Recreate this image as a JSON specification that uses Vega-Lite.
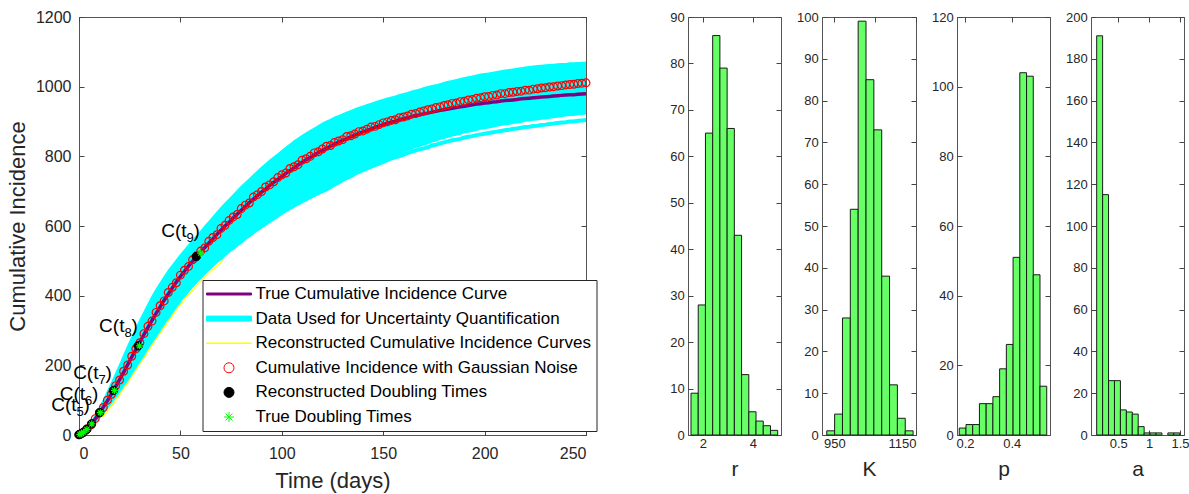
{
"$schema": "https://vega.github.io/schema/vega-lite/v6.json",
"padding": {"left": 5, "top": 8, "right": 2, "bottom": 2},
"bounds": "flush",
"spacing": 41,
"config": {
 "font": "Liberation Sans",
 "view": {"stroke": "#555555", "strokeWidth": 1},
 "axis": {"grid": false, "domain": false, "tickSize": -5, "tickColor": "#444444", "tickWidth": 1, "labelColor": "#262626", "titleColor": "#262626", "titleFontWeight": "normal"}
},
"datasets": {
 "main": [
{"t":0,"tru":1,"noisy":1,"hi":1,"lo":1,"out":7,"yel":9},
{"t":2,"tru":7,"noisy":7,"hi":8,"lo":5,"out":11,"yel":13},
{"t":4,"tru":17,"noisy":18,"hi":23,"lo":13,"out":19,"yel":21},
{"t":6,"tru":30,"noisy":29,"hi":41,"lo":23,"out":29,"yel":31},
{"t":8,"tru":46,"noisy":47,"hi":60,"lo":35,"out":41,"yel":43},
{"t":10,"tru":62,"noisy":64,"hi":82,"lo":48,"out":54,"yel":56},
{"t":12,"tru":80,"noisy":79,"hi":104,"lo":65,"out":68,"yel":54},
{"t":14,"tru":98,"noisy":100,"hi":129,"lo":80,"out":83,"yel":69},
{"t":16,"tru":118,"noisy":117,"hi":154,"lo":95,"out":98,"yel":84},
{"t":18,"tru":138,"noisy":141,"hi":180,"lo":110,"out":113,"yel":99},
{"t":20,"tru":159,"noisy":158,"hi":206,"lo":127,"out":130,"yel":116},
{"t":22,"tru":180,"noisy":183,"hi":233,"lo":144,"out":147,"yel":133},
{"t":24,"tru":202,"noisy":201,"hi":260,"lo":161,"out":164,"yel":150},
{"t":26,"tru":224,"noisy":226,"hi":285,"lo":179,"out":182,"yel":168},
{"t":28,"tru":245,"noisy":247,"hi":310,"lo":197,"out":200,"yel":186},
{"t":30,"tru":267,"noisy":265,"hi":334,"lo":215,"out":218,"yel":204},
{"t":32,"tru":288,"noisy":291,"hi":357,"lo":233,"out":236,"yel":222},
{"t":34,"tru":309,"noisy":312,"hi":380,"lo":251,"out":254,"yel":240},
{"t":36,"tru":329,"noisy":327,"hi":402,"lo":269,"out":272,"yel":258},
{"t":38,"tru":349,"noisy":352,"hi":421,"lo":286,"out":289,"yel":275},
{"t":40,"tru":368,"noisy":371,"hi":440,"lo":304,"out":307,"yel":293},
{"t":42,"tru":387,"noisy":385,"hi":458,"lo":321,"out":324,"yel":310},
{"t":44,"tru":405,"noisy":409,"hi":475,"lo":337,"out":340,"yel":326},
{"t":46,"tru":422,"noisy":424,"hi":490,"lo":354,"out":357,"yel":343},
{"t":48,"tru":439,"noisy":437,"hi":505,"lo":370,"out":373,"yel":359},
{"t":50,"tru":455,"noisy":459,"hi":520,"lo":386,"out":389,"yel":375},
{"t":52,"tru":470,"noisy":473,"hi":534,"lo":400,"out":403,"yel":389},
{"t":54,"tru":485,"noisy":484,"hi":548,"lo":414,"out":417,"yel":403},
{"t":56,"tru":499,"noisy":503,"hi":562,"lo":427,"out":430,"yel":416},
{"t":58,"tru":512,"noisy":515,"hi":575,"lo":440,"out":443,"yel":429},
{"t":60,"tru":525,"noisy":528,"hi":588,"lo":452,"out":455,"yel":441},
{"t":62,"tru":538,"noisy":537,"hi":602,"lo":464,"out":467,"yel":453},
{"t":64,"tru":551,"noisy":556,"hi":615,"lo":475,"out":478,"yel":464},
{"t":66,"tru":563,"noisy":567,"hi":629,"lo":486,"out":489,"yel":475},
{"t":68,"tru":576,"noisy":575,"hi":642,"lo":497,"out":500,"yel":486},
{"t":70,"tru":588,"noisy":593,"hi":655,"lo":506,"out":509,"yel":495},
{"t":72,"tru":600,"noisy":602,"hi":668,"lo":517,"out":520,"yel":522},
{"t":74,"tru":611,"noisy":616,"hi":680,"lo":526,"out":529,"yel":531},
{"t":76,"tru":623,"noisy":626,"hi":692,"lo":535,"out":538,"yel":540},
{"t":78,"tru":634,"noisy":633,"hi":704,"lo":544,"out":547,"yel":549},
{"t":80,"tru":645,"noisy":650,"hi":716,"lo":553,"out":556,"yel":558},
{"t":82,"tru":656,"noisy":660,"hi":727,"lo":563,"out":566,"yel":568},
{"t":84,"tru":667,"noisy":666,"hi":738,"lo":571,"out":574,"yel":576},
{"t":86,"tru":677,"noisy":683,"hi":749,"lo":580,"out":583,"yel":585},
{"t":88,"tru":687,"noisy":690,"hi":760,"lo":588,"out":591,"yel":593},
{"t":90,"tru":697,"noisy":699,"hi":771,"lo":596,"out":599,"yel":601},
{"t":92,"tru":706,"noisy":712,"hi":781,"lo":604,"out":607,"yel":609},
{"t":94,"tru":716,"noisy":718,"hi":791,"lo":612,"out":615,"yel":617},
{"t":96,"tru":725,"noisy":727,"hi":800,"lo":619,"out":622,"yel":624},
{"t":98,"tru":734,"noisy":739,"hi":809,"lo":627,"out":630,"yel":632},
{"t":100,"tru":742,"noisy":747,"hi":819,"lo":635,"out":638,"yel":640},
{"t":102,"tru":751,"noisy":752,"hi":828,"lo":642,"out":645,"yel":647},
{"t":104,"tru":759,"noisy":765,"hi":837,"lo":649,"out":652,"yel":654},
{"t":106,"tru":767,"noisy":770,"hi":846,"lo":655,"out":658,"yel":660},
{"t":108,"tru":775,"noisy":776,"hi":854,"lo":662,"out":665,"yel":667},
{"t":110,"tru":783,"noisy":789,"hi":862,"lo":668,"out":671,"yel":673},
{"t":112,"tru":790,"noisy":793,"hi":869,"lo":674,"out":677,"yel":679},
{"t":114,"tru":797,"noisy":800,"hi":876,"lo":680,"out":683,"yel":685},
{"t":116,"tru":804,"noisy":810,"hi":883,"lo":686,"out":689,"yel":691},
{"t":118,"tru":811,"noisy":813,"hi":890,"lo":692,"out":695,"yel":697},
{"t":120,"tru":817,"noisy":821,"hi":897,"lo":697,"out":700,"yel":702},
{"t":122,"tru":823,"noisy":829,"hi":903,"lo":702,"out":705,"yel":707},
{"t":124,"tru":829,"noisy":831,"hi":908,"lo":709,"out":712,"yel":714},
{"t":126,"tru":835,"noisy":840,"hi":914,"lo":716,"out":719,"yel":721},
{"t":128,"tru":841,"noisy":844,"hi":919,"lo":722,"out":725,"yel":727},
{"t":130,"tru":846,"noisy":848,"hi":924,"lo":729,"out":732,"yel":734},
{"t":132,"tru":851,"noisy":857,"hi":929,"lo":735,"out":738,"yel":740},
{"t":134,"tru":856,"noisy":859,"hi":933,"lo":740,"out":743,"yel":745},
{"t":136,"tru":861,"noisy":864,"hi":938,"lo":747,"out":750,"yel":752},
{"t":138,"tru":866,"noisy":871,"hi":942,"lo":752,"out":755,"yel":757},
{"t":140,"tru":870,"noisy":873,"hi":946,"lo":757,"out":760,"yel":762},
{"t":142,"tru":874,"noisy":878,"hi":950,"lo":763,"out":765,"yel":767},
{"t":144,"tru":879,"noisy":884,"hi":954,"lo":769,"out":770,"yel":772},
{"t":146,"tru":883,"noisy":886,"hi":958,"lo":774,"out":775,"yel":777},
{"t":148,"tru":887,"noisy":891,"hi":962,"lo":779,"out":779,"yel":781},
{"t":150,"tru":891,"noisy":896,"hi":965,"lo":785,"out":784,"yel":786},
{"t":152,"tru":895,"noisy":899,"hi":969,"lo":791,"out":789,"yel":791},
{"t":154,"tru":898,"noisy":903,"hi":972,"lo":797,"out":794,"yel":796},
{"t":156,"tru":901,"noisy":905,"hi":975,"lo":800,"out":797,"yel":799},
{"t":158,"tru":905,"noisy":911,"hi":979,"lo":805,"out":801,"yel":803},
{"t":160,"tru":908,"noisy":913,"hi":982,"lo":810,"out":805,"yel":807},
{"t":162,"tru":911,"noisy":916,"hi":985,"lo":816,"out":810,"yel":812},
{"t":164,"tru":914,"noisy":921,"hi":989,"lo":819,"out":813,"yel":815},
{"t":166,"tru":917,"noisy":923,"hi":992,"lo":824,"out":817,"yel":819},
{"t":168,"tru":919,"noisy":927,"hi":995,"lo":827,"out":820,"yel":822},
{"t":170,"tru":922,"noisy":930,"hi":999,"lo":831,"out":823,"yel":825},
{"t":172,"tru":924,"noisy":934,"hi":1002,"lo":834,"out":826,"yel":828},
{"t":174,"tru":927,"noisy":936,"hi":1005,"lo":840,"out":831,"yel":833},
{"t":176,"tru":929,"noisy":940,"hi":1007,"lo":842,"out":833,"yel":835},
{"t":178,"tru":932,"noisy":942,"hi":1010,"lo":847,"out":837,"yel":839},
{"t":180,"tru":934,"noisy":946,"hi":1014,"lo":850,"out":840,"yel":842},
{"t":182,"tru":936,"noisy":948,"hi":1017,"lo":853,"out":843,"yel":845},
{"t":184,"tru":938,"noisy":952,"hi":1019,"lo":857,"out":846,"yel":848},
{"t":186,"tru":940,"noisy":953,"hi":1022,"lo":859,"out":848,"yel":850},
{"t":188,"tru":942,"noisy":957,"hi":1025,"lo":861,"out":850,"yel":852},
{"t":190,"tru":944,"noisy":958,"hi":1028,"lo":866,"out":854,"yel":856},
{"t":192,"tru":946,"noisy":962,"hi":1030,"lo":868,"out":856,"yel":858},
{"t":194,"tru":948,"noisy":963,"hi":1032,"lo":870,"out":858,"yel":860},
{"t":196,"tru":950,"noisy":967,"hi":1035,"lo":873,"out":861,"yel":863},
{"t":198,"tru":951,"noisy":968,"hi":1038,"lo":876,"out":863,"yel":865},
{"t":200,"tru":953,"noisy":971,"hi":1039,"lo":878,"out":865,"yel":867},
{"t":202,"tru":954,"noisy":972,"hi":1041,"lo":880,"out":867,"yel":869},
{"t":204,"tru":956,"noisy":975,"hi":1043,"lo":882,"out":869,"yel":871},
{"t":206,"tru":957,"noisy":976,"hi":1045,"lo":885,"out":871,"yel":873},
{"t":208,"tru":959,"noisy":980,"hi":1047,"lo":887,"out":873,"yel":875},
{"t":210,"tru":960,"noisy":980,"hi":1049,"lo":889,"out":875,"yel":877},
{"t":212,"tru":961,"noisy":983,"hi":1051,"lo":890,"out":876,"yel":878},
{"t":214,"tru":962,"noisy":984,"hi":1052,"lo":893,"out":879,"yel":881},
{"t":216,"tru":963,"noisy":986,"hi":1054,"lo":894,"out":880,"yel":882},
{"t":218,"tru":965,"noisy":987,"hi":1056,"lo":896,"out":882,"yel":884},
{"t":220,"tru":966,"noisy":990,"hi":1058,"lo":899,"out":884,"yel":886},
{"t":222,"tru":967,"noisy":990,"hi":1059,"lo":900,"out":885,"yel":887},
{"t":224,"tru":968,"noisy":993,"hi":1061,"lo":902,"out":887,"yel":889},
{"t":226,"tru":969,"noisy":994,"hi":1062,"lo":903,"out":888,"yel":890},
{"t":228,"tru":970,"noisy":996,"hi":1063,"lo":905,"out":890,"yel":892},
{"t":230,"tru":971,"noisy":997,"hi":1064,"lo":906,"out":891,"yel":893},
{"t":232,"tru":972,"noisy":999,"hi":1065,"lo":908,"out":893,"yel":895},
{"t":234,"tru":973,"noisy":1000,"hi":1066,"lo":909,"out":894,"yel":896},
{"t":236,"tru":974,"noisy":1002,"hi":1067,"lo":911,"out":896,"yel":898},
{"t":238,"tru":975,"noisy":1003,"hi":1068,"lo":912,"out":897,"yel":899},
{"t":240,"tru":976,"noisy":1005,"hi":1068,"lo":914,"out":898,"yel":900},
{"t":242,"tru":977,"noisy":1006,"hi":1070,"lo":916,"out":900,"yel":902},
{"t":244,"tru":977,"noisy":1007,"hi":1070,"lo":916,"out":900,"yel":902},
{"t":246,"tru":978,"noisy":1009,"hi":1071,"lo":918,"out":902,"yel":904},
{"t":248,"tru":979,"noisy":1010,"hi":1071,"lo":919,"out":903,"yel":905},
{"t":250,"tru":980,"noisy":1011,"hi":1072,"lo":920,"out":904,"yel":906}
 ],
 "dbl": [
{"t":0,"c":1},{"t":0.4,"c":2},{"t":1.15,"c":4},{"t":2.2,"c":8},{"t":3.8,"c":16},{"t":6.2,"c":32},{"t":10.2,"c":64},{"t":17,"c":128},{"t":29.2,"c":256},{"t":57.8,"c":512}
 ],
 "truedbl": [
{"t":0.45,"c":2},{"t":1.2,"c":4},{"t":2.3,"c":8},{"t":3.9,"c":16},{"t":6.3,"c":32},{"t":10.5,"c":64},{"t":17.5,"c":128},{"t":29.8,"c":256},{"t":60,"c":522}
 ],
 "labels": [
{"main":"C(t","sub":"9","lx":53,"ly":585},
{"main":"C(t","sub":"8","lx":22.4,"ly":313},
{"main":"C(t","sub":"7","lx":9.6,"ly":178},
{"main":"C(t","sub":"6","lx":3.0,"ly":118},
{"main":"C(t","sub":"5","lx":-1.2,"ly":86}
 ],
 "hr": [
{"x0":1.53,"x1":1.819,"n":9},{"x0":1.819,"x1":2.108,"n":28},{"x0":2.108,"x1":2.397,"n":65},{"x0":2.397,"x1":2.686,"n":86},{"x0":2.686,"x1":2.975,"n":79},{"x0":2.975,"x1":3.264,"n":66},{"x0":3.264,"x1":3.553,"n":43},{"x0":3.553,"x1":3.842,"n":13},{"x0":3.842,"x1":4.131,"n":5},{"x0":4.131,"x1":4.42,"n":3},{"x0":4.42,"x1":4.709,"n":2},{"x0":4.709,"x1":4.998,"n":1}
 ],
 "hK": [
{"x0":931.7,"x1":950.9,"n":1},{"x0":950.9,"x1":970.1,"n":5},{"x0":970.1,"x1":989.3,"n":28},{"x0":989.3,"x1":1008.5,"n":54},{"x0":1008.5,"x1":1027.7,"n":99},{"x0":1027.7,"x1":1046.9,"n":85},{"x0":1046.9,"x1":1066.1,"n":73},{"x0":1066.1,"x1":1085.3,"n":38},{"x0":1085.3,"x1":1104.5,"n":12},{"x0":1104.5,"x1":1123.7,"n":4},{"x0":1123.7,"x1":1142.9,"n":1}
 ],
 "hp": [
{"x0":0.1756,"x1":0.2044,"n":2},{"x0":0.2044,"x1":0.2332,"n":3},{"x0":0.2332,"x1":0.262,"n":3},{"x0":0.262,"x1":0.2908,"n":9},{"x0":0.2908,"x1":0.3196,"n":9},{"x0":0.3196,"x1":0.3484,"n":11},{"x0":0.3484,"x1":0.3772,"n":19},{"x0":0.3772,"x1":0.406,"n":26},{"x0":0.406,"x1":0.4348,"n":51},{"x0":0.4348,"x1":0.4636,"n":104},{"x0":0.4636,"x1":0.4924,"n":103},{"x0":0.4924,"x1":0.5212,"n":46},{"x0":0.5212,"x1":0.55,"n":14}
 ],
 "ha": [
{"x0":0.152,"x1":0.248,"n":191},{"x0":0.248,"x1":0.344,"n":115},{"x0":0.344,"x1":0.44,"n":26},{"x0":0.44,"x1":0.536,"n":26},{"x0":0.536,"x1":0.632,"n":12},{"x0":0.632,"x1":0.728,"n":11},{"x0":0.728,"x1":0.824,"n":10},{"x0":0.824,"x1":0.92,"n":4},{"x0":0.92,"x1":1.016,"n":1},{"x0":1.016,"x1":1.112,"n":1},{"x0":1.112,"x1":1.208,"n":1},{"x0":1.304,"x1":1.4,"n":1},{"x0":1.4,"x1":1.496,"n":1}
 ]
},
"hconcat": [
{
 "width": 507, "height": 418,
 "resolve": {"axis": {"x": "independent", "y": "independent"}},
 "layer": [
  {"data": {"name": "main"},
   "mark": {"type": "line", "strokeWidth": 1.3, "opacity": 1},
   "encoding": {
    "x": {"field": "t", "type": "quantitative", "scale": {"domain": [0, 250], "nice": false, "zero": false},
          "axis": {"orient": "bottom", "values": [0,50,100,150,200,250], "format": "d", "title": "Time (days)", "labelFontSize": 16, "labelPadding": 15, "titleFontSize": 22, "titlePadding": 9}},
    "y": {"field": "yel", "type": "quantitative", "scale": {"domain": [0, 1200], "nice": false},
          "axis": {"orient": "left", "values": [0,200,400,600,800,1000,1200], "format": "d", "title": "Cumulative Incidence", "labelFontSize": 16, "labelPadding": 13, "titleFontSize": 22, "titlePadding": 6}},
    "stroke": {"datum": "Reconstructed Cumulative Incidence Curves", "type": "nominal",
      "scale": {"domain": ["True Cumulative Incidence Curve", "Data Used for Uncertainty Quantification", "Reconstructed Cumulative Incidence Curves", "Cumulative Incidence with Gaussian Noise", "Reconstructed Doubling Times", "True Doubling Times"],
                "range": ["#800080", "#00FFFF", "#FFFF00", "#FF0000", "#000000", "#00FF00"]},
      "legend": {"orient": "none", "legendX": 123.5, "legendY": 263, "title": null, "padding": 5.5,
        "strokeColor": "#262626", "fillColor": "#FFFFFF", "labelFontSize": 17, "labelColor": "#000000",
        "labelLimit": 600, "rowPadding": 6.6, "symbolOffset": 12.5, "labelOffset": 18,
        "symbolSize": 100, "symbolStrokeWidth": 1}}
   }},
  {"data": {"name": "main"},
   "mark": {"type": "area", "opacity": 1},
   "encoding": {
    "x": {"field": "t", "type": "quantitative", "axis": null},
    "y": {"field": "hi", "type": "quantitative", "axis": null},
    "y2": {"field": "lo"},
    "fill": {"datum": "Data Used for Uncertainty Quantification", "type": "nominal",
      "scale": {"domain": ["True Cumulative Incidence Curve", "Data Used for Uncertainty Quantification", "Reconstructed Cumulative Incidence Curves", "Cumulative Incidence with Gaussian Noise", "Reconstructed Doubling Times", "True Doubling Times"],
                "range": ["#800080", "#00FFFF", "#FFFF00", "transparent", "#000000", "transparent"]}}
   }},
  {"data": {"name": "main"},
   "mark": {"type": "line", "strokeWidth": 4, "opacity": 1},
   "encoding": {
    "x": {"field": "t", "type": "quantitative", "axis": null},
    "y": {"field": "out", "type": "quantitative", "axis": null},
    "stroke": {"datum": "Data Used for Uncertainty Quantification", "type": "nominal"}
   }},
  {"data": {"name": "main"},
   "mark": {"type": "line", "strokeWidth": 3.5, "opacity": 1},
   "encoding": {
    "x": {"field": "t", "type": "quantitative", "axis": null},
    "y": {"field": "tru", "type": "quantitative", "axis": null},
    "stroke": {"datum": "True Cumulative Incidence Curve", "type": "nominal"}
   }},
  {"data": {"name": "main"},
   "mark": {"type": "point", "filled": false, "size": 60, "strokeWidth": 1.2, "opacity": 1},
   "encoding": {
    "x": {"field": "t", "type": "quantitative", "axis": null},
    "y": {"field": "noisy", "type": "quantitative", "axis": null},
    "stroke": {"datum": "Cumulative Incidence with Gaussian Noise", "type": "nominal"},
    "shape": {"datum": "Cumulative Incidence with Gaussian Noise", "type": "nominal",
      "scale": {"domain": ["True Cumulative Incidence Curve", "Data Used for Uncertainty Quantification", "Reconstructed Cumulative Incidence Curves", "Cumulative Incidence with Gaussian Noise", "Reconstructed Doubling Times", "True Doubling Times"],
                "range": ["M-4.5,-0.2L4.5,-0.2L4.5,0.2L-4.5,0.2Z", "M-4.5,-0.5L4.5,-0.5L4.5,0.5L-4.5,0.5Z", "M-4.5,-0.05L4.5,-0.05L4.5,0.05L-4.5,0.05Z", "circle", "circle", "M-1,0L1,0M0,-1L0,1M-0.7,-0.7L0.7,0.7M-0.7,0.7L0.7,-0.7"]}}
   }},
  {"data": {"name": "dbl"},
   "mark": {"type": "point", "filled": true, "size": 70, "strokeWidth": 1, "opacity": 1},
   "encoding": {
    "x": {"field": "t", "type": "quantitative", "axis": null},
    "y": {"field": "c", "type": "quantitative", "axis": null},
    "stroke": {"datum": "Reconstructed Doubling Times", "type": "nominal"},
    "fill": {"datum": "Reconstructed Doubling Times", "type": "nominal"},
    "shape": {"datum": "Reconstructed Doubling Times", "type": "nominal"}
   }},
  {"data": {"name": "truedbl"},
   "mark": {"type": "point", "filled": false, "size": 50, "strokeWidth": 1.2, "opacity": 1},
   "encoding": {
    "x": {"field": "t", "type": "quantitative", "axis": null},
    "y": {"field": "c", "type": "quantitative", "axis": null},
    "stroke": {"datum": "True Doubling Times", "type": "nominal"},
    "shape": {"datum": "True Doubling Times", "type": "nominal"}
   }},
  {"data": {"name": "labels"},
   "mark": {"type": "text", "fontSize": 19, "color": "#000000", "align": "right", "baseline": "middle"},
   "encoding": {
    "x": {"field": "lx", "type": "quantitative", "axis": null},
    "y": {"field": "ly", "type": "quantitative", "axis": null},
    "text": {"field": "main"}
   }},
  {"data": {"name": "labels"},
   "mark": {"type": "text", "fontSize": 13, "color": "#000000", "align": "left", "baseline": "middle", "dy": 7},
   "encoding": {
    "x": {"field": "lx", "type": "quantitative", "axis": null},
    "y": {"field": "ly", "type": "quantitative", "axis": null},
    "text": {"field": "sub"}
   }},
  {"data": {"name": "labels"},
   "mark": {"type": "text", "fontSize": 19, "color": "#000000", "align": "left", "baseline": "middle", "dx": 7},
   "encoding": {
    "x": {"field": "lx", "type": "quantitative", "axis": null},
    "y": {"field": "ly", "type": "quantitative", "axis": null},
    "text": {"value": ")"}
   }},
  {"data": {"name": "main"},
   "mark": {"type": "point", "opacity": 0},
   "encoding": {
    "x": {"field": "t", "type": "quantitative", "axis": {"orient": "top", "values": [0,50,100,150,200,250], "labels": false, "title": null}},
    "y": {"field": "tru", "type": "quantitative", "axis": {"orient": "right", "values": [0,200,400,600,800,1000,1200], "labels": false, "title": null}}
   }}
 ]
},
{
 "width": 20, "height": 418,
 "view": {"stroke": null},
 "data": {"values": [{"s": 0}]},
 "mark": {"type": "point", "opacity": 0},
 "encoding": {}
},
{
 "width": 93, "height": 418,
 "data": {"name": "hr"},
 "resolve": {"axis": {"x": "independent", "y": "independent"}},
 "layer": [
  {"mark": {"type": "rect", "fill": "#66FF66", "stroke": "#1a1a1a", "strokeWidth": 1, "opacity": 1},
   "encoding": {
    "x": {"field": "x0", "type": "quantitative", "scale": {"domain": [1.41, 5.13], "nice": false, "zero": false},
          "axis": {"orient": "bottom", "values": [2, 4], "format": "~g", "title": "r", "labelFontSize": 13, "labelPadding": 7.5, "titleFontSize": 21, "titlePadding": 8}},
    "x2": {"field": "x1"},
    "y": {"field": "n", "type": "quantitative", "scale": {"domain": [0, 90], "nice": false, "zero": true},
          "axis": {"orient": "left", "values": [0,10,20,30,40,50,60,70,80,90], "format": "d", "title": null, "labelFontSize": 13, "labelPadding": 8.7}},
    "y2": {"datum": 0}
   }},
  {"mark": {"type": "rect", "opacity": 0},
   "encoding": {
    "x": {"field": "x0", "type": "quantitative", "axis": {"orient": "top", "values": [2, 4], "labels": false, "title": null}},
    "x2": {"field": "x1"},
    "y": {"field": "n", "type": "quantitative", "axis": {"orient": "right", "values": [0,10,20,30,40,50,60,70,80,90], "labels": false, "title": null}},
    "y2": {"datum": 0}
   }}
 ]
},
{
 "width": 94, "height": 418,
 "data": {"name": "hK"},
 "resolve": {"axis": {"x": "independent", "y": "independent"}},
 "layer": [
  {"mark": {"type": "rect", "fill": "#66FF66", "stroke": "#1a1a1a", "strokeWidth": 1, "opacity": 1},
   "encoding": {
    "x": {"field": "x0", "type": "quantitative", "scale": {"domain": [920, 1150], "nice": false, "zero": false},
          "axis": {"orient": "bottom", "values": [950, 1050, 1150], "format": "d", "title": "K", "labelFontSize": 13, "labelPadding": 7.5, "titleFontSize": 21, "titlePadding": 8}},
    "x2": {"field": "x1"},
    "y": {"field": "n", "type": "quantitative", "scale": {"domain": [0, 100], "nice": false, "zero": true},
          "axis": {"orient": "left", "values": [0,10,20,30,40,50,60,70,80,90,100], "format": "d", "title": null, "labelFontSize": 13, "labelPadding": 8.7}},
    "y2": {"datum": 0}
   }},
  {"mark": {"type": "rect", "opacity": 0},
   "encoding": {
    "x": {"field": "x0", "type": "quantitative", "axis": {"orient": "top", "values": [950, 1050, 1150], "labels": false, "title": null}},
    "x2": {"field": "x1"},
    "y": {"field": "n", "type": "quantitative", "axis": {"orient": "right", "values": [0,10,20,30,40,50,60,70,80,90,100], "labels": false, "title": null}},
    "y2": {"datum": 0}
   }}
 ]
},
{
 "width": 93, "height": 418,
 "data": {"name": "hp"},
 "resolve": {"axis": {"x": "independent", "y": "independent"}},
 "layer": [
  {"mark": {"type": "rect", "fill": "#66FF66", "stroke": "#1a1a1a", "strokeWidth": 1, "opacity": 1},
   "encoding": {
    "x": {"field": "x0", "type": "quantitative", "scale": {"domain": [0.166, 0.564], "nice": false, "zero": false},
          "axis": {"orient": "bottom", "values": [0.2, 0.4], "format": "~g", "title": "p", "labelFontSize": 13, "labelPadding": 7.5, "titleFontSize": 21, "titlePadding": 8}},
    "x2": {"field": "x1"},
    "y": {"field": "n", "type": "quantitative", "scale": {"domain": [0, 120], "nice": false, "zero": true},
          "axis": {"orient": "left", "values": [0,20,40,60,80,100,120], "format": "d", "title": null, "labelFontSize": 13, "labelPadding": 8.7}},
    "y2": {"datum": 0}
   }},
  {"mark": {"type": "rect", "opacity": 0},
   "encoding": {
    "x": {"field": "x0", "type": "quantitative", "axis": {"orient": "top", "values": [0.2, 0.4], "labels": false, "title": null}},
    "x2": {"field": "x1"},
    "y": {"field": "n", "type": "quantitative", "axis": {"orient": "right", "values": [0,20,40,60,80,100,120], "labels": false, "title": null}},
    "y2": {"datum": 0}
   }}
 ]
},
{
 "width": 93, "height": 418,
 "data": {"name": "ha"},
 "resolve": {"axis": {"x": "independent", "y": "independent"}},
 "layer": [
  {"mark": {"type": "rect", "fill": "#66FF66", "stroke": "#1a1a1a", "strokeWidth": 1, "opacity": 1},
   "encoding": {
    "x": {"field": "x0", "type": "quantitative", "scale": {"domain": [0.06, 1.565], "nice": false, "zero": false},
          "axis": {"orient": "bottom", "values": [0.5, 1, 1.5], "format": "~g", "title": "a", "labelFontSize": 13, "labelPadding": 7.5, "titleFontSize": 21, "titlePadding": 8}},
    "x2": {"field": "x1"},
    "y": {"field": "n", "type": "quantitative", "scale": {"domain": [0, 200], "nice": false, "zero": true},
          "axis": {"orient": "left", "values": [0,20,40,60,80,100,120,140,160,180,200], "format": "d", "title": null, "labelFontSize": 13, "labelPadding": 8.7}},
    "y2": {"datum": 0}
   }},
  {"mark": {"type": "rect", "opacity": 0},
   "encoding": {
    "x": {"field": "x0", "type": "quantitative", "axis": {"orient": "top", "values": [0.5, 1, 1.5], "labels": false, "title": null}},
    "x2": {"field": "x1"},
    "y": {"field": "n", "type": "quantitative", "axis": {"orient": "right", "values": [0,20,40,60,80,100,120,140,160,180,200], "labels": false, "title": null}},
    "y2": {"datum": 0}
   }}
 ]
}
]
}
